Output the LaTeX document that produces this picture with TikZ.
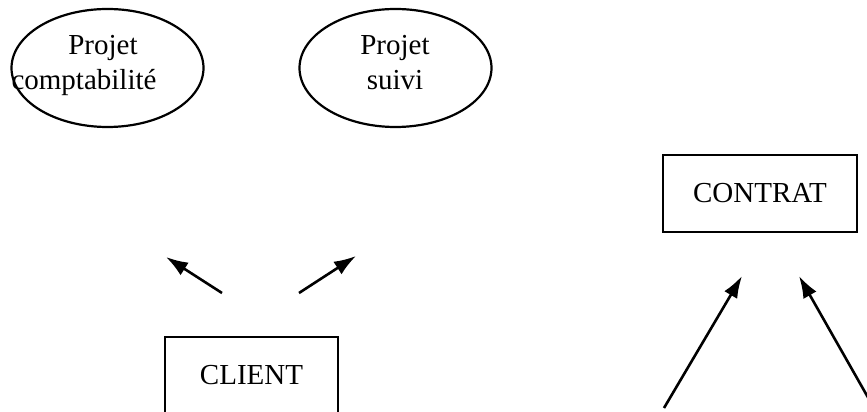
\documentclass[tikz,border=0pt]{standalone}
\usepackage{fontspec}
\setmainfont{Liberation Serif}
\usetikzlibrary{shapes.geometric,arrows.meta}
\def\grandtexte{\fontsize{29}{35}\selectfont}

\begin{document}
\begin{tikzpicture}[x=1pt,y=1pt,
  projet/.style={ellipse,draw,line width=2.2pt,minimum width=192pt,minimum height=118pt,inner sep=0pt},
  entite/.style={rectangle,draw,line width=2pt,minimum height=77pt,inner sep=0pt,font=\grandtexte},
  mot/.style={anchor=base,inner sep=0pt,font=\grandtexte},
  fleche/.style={line width=2.6pt,-{Latex[length=22pt,width=15pt]}}]
\useasboundingbox (0,0) rectangle (867,412);

% les deux projets
\node[projet] (compta) at (107.5,344) {};
\node[mot] (comptaA) at (103,357) {Projet};
\node[mot] (comptaB) at (84,322) {comptabilité};
\node[projet] (suivi) at (395.5,344) {};
\node[mot] (suiviA) at (395,357) {Projet};
\node[mot] (suiviB) at (395,322) {suivi};

% les entites
\node[entite,minimum width=194pt] (contrat) at (760,218.5) {CONTRAT};
\node[entite,minimum width=173pt] (client) at (251.5,36.5) {CLIENT};

% fleches
\coordinate (cliG1) at (222,119);
\coordinate (cliG2) at (166,155);
\coordinate (cliD1) at (299,119);
\coordinate (cliD2) at (356,156);
\coordinate (conG1) at (664,4);
\coordinate (conG2) at (742,136);
\coordinate (conD1) at (874,4);
\coordinate (conD2) at (799,136);
\draw[fleche] (cliG1) -- (cliG2);
\draw[fleche] (cliD1) -- (cliD2);
\draw[fleche] (conG1) -- (conG2);
\draw[fleche] (conD1) -- (conD2);
\end{tikzpicture}
\end{document}
